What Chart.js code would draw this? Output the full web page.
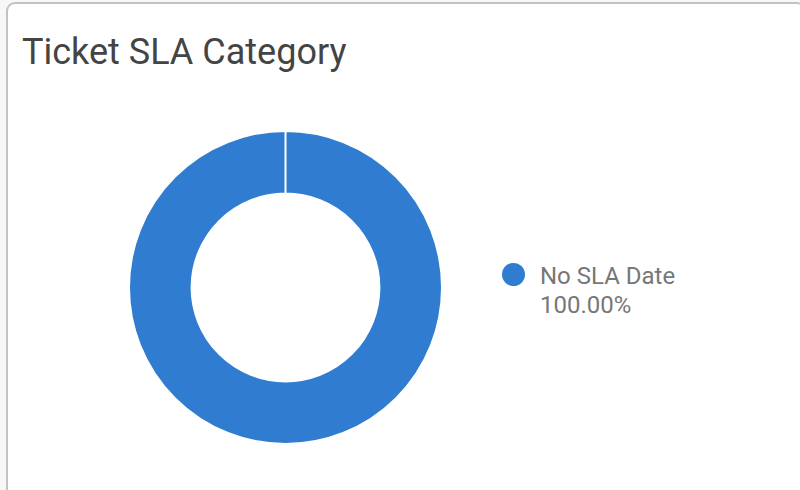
<!DOCTYPE html>
<html>
<head>
<meta charset="utf-8">
<script src="https://cdn.jsdelivr.net/npm/chart.js@4/dist/chart.umd.min.js"></script>
<style>
  html, body { margin: 0; padding: 0; width: 800px; height: 490px; overflow: hidden; background: #f7f7f7; font-family: Roboto, "Noto Sans", sans-serif; }
  #card { position: absolute; left: 6px; top: 2px; width: 800px; height: 520px; box-sizing: border-box; border: 2px solid #c2c2c2; border-radius: 9px; background: #fff; }
  #title { position: absolute; left: 22px; top: 30px; margin: 0; font-size: 36px; font-weight: 400; color: #444; line-height: 44px; white-space: nowrap; }
  #wrap { position: absolute; left: 128px; top: 130px; width: 315px; height: 315px; }
  #legend { position: absolute; left: 502px; top: 262px; font-size: 24px; color: #777; line-height: 29px; }
  .item { position: relative; padding-left: 38px; }
  .dot { position: absolute; left: 0; top: 1px; width: 23px; height: 23px; border-radius: 50%; }
</style>
</head>
<body>
<div id="card"></div>
<div id="title"></div>
<div id="wrap"><canvas id="c"></canvas></div>
<div id="legend"></div>
<script>
const chartTitle = "Ticket SLA Category";
const categories = ["No SLA Date"];
const values = [100];
const colors = ["#307cd1"];

document.getElementById('title').textContent = chartTitle;

const total = values.reduce((a, b) => a + b, 0);
const legend = document.getElementById('legend');
categories.forEach((cat, i) => {
  const item = document.createElement('div');
  item.className = 'item';
  const dot = document.createElement('span');
  dot.className = 'dot';
  dot.style.background = colors[i];
  item.appendChild(dot);
  const l1 = document.createElement('div');
  l1.textContent = cat;
  const l2 = document.createElement('div');
  l2.textContent = (values[i] / total * 100).toFixed(2) + '%';
  item.appendChild(l1);
  item.appendChild(l2);
  legend.appendChild(item);
});

new Chart(document.getElementById('c'), {
  type: 'doughnut',
  data: {
    labels: categories,
    datasets: [{ data: values, backgroundColor: colors, borderColor: '#ffffff', borderWidth: 2, hoverOffset: 0 }]
  },
  options: {
    responsive: true,
    maintainAspectRatio: false,
    animation: false,
    cutout: '60%',
    layout: { padding: 0 },
    plugins: { legend: { display: false }, title: { display: false }, tooltip: { enabled: false } }
  }
});
</script>
</body>
</html>
